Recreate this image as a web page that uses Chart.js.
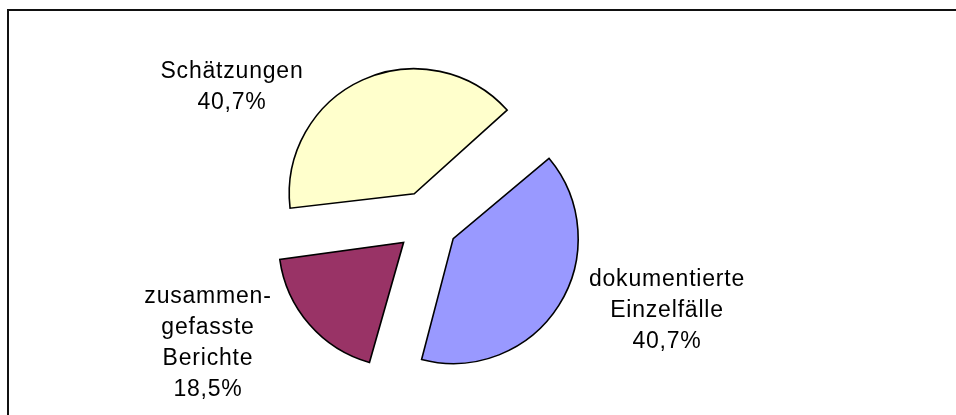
<!DOCTYPE html>
<html>
<head>
<meta charset="utf-8">
<script src="https://cdn.jsdelivr.net/npm/chart.js@4/dist/chart.umd.min.js"></script>
<style>
  html, body { margin: 0; padding: 0; background: #fff; }
  #wrap { position: relative; width: 956px; height: 415px; overflow: hidden; }
  #frame { position: absolute; left: 7px; top: 9px; width: 1000px; height: 500px;
           border-left: 2px solid #111; border-top: 2px solid #111; }
  canvas { position: absolute; left: 0; top: 0; }
</style>
</head>
<body>
<div id="wrap">
  <div id="frame"></div>
  <canvas id="pie" width="956" height="415"></canvas>
</div>
<script>
// Anteile in Prozent
const categories = [['dokumentierte', 'Einzelfälle'], ['zusammen-', 'gefasste', 'Berichte'], ['Schätzungen']];
const values = [40.7, 18.5, 40.7];
const colors = ['#9999FF', '#993366', '#FFFFCC'];

// where each label block starts (first baseline), relative to pie centre
const labelOffsets = [[240, 64], [-219, 81], [-195, -144]];
const lineHeight = 31;
const pieRadius = 125;
const gap = 31; // how far each slice is pulled out

// Chart.js v4 moves an arc by offset/4 and also grows its radius by offset/4 * fix;
// take that growth back off so all slices keep the same radius
const evenRadius = {
    id: 'evenRadius',
    beforeDatasetsDraw(chart) {
        chart.getDatasetMeta(0).data.forEach(arc => {
            const fix = 1 - Math.sin(Math.min(Math.PI, arc.circumference));
            arc.outerRadius = pieRadius - gap * fix;
        });
    }
};

const labelPlugin = {
    id: 'pieLabels',
    afterDatasetsDraw(chart) {
        const ctx = chart.ctx;
        const arcs = chart.getDatasetMeta(0).data;
        ctx.save();
        ctx.font = '23px "Liberation Sans", Arial, sans-serif';
        ctx.letterSpacing = '0.8px';
        ctx.fillStyle = '#000';
        ctx.textAlign = 'center';
        ctx.textBaseline = 'alphabetic';
        arcs.forEach((arc, i) => {
            const lines = categories[i].concat([values[i].toFixed(1).replace('.', ',') + '%']);
            const x = arc.x + labelOffsets[i][0];
            let y = arc.y + labelOffsets[i][1];
            lines.forEach(line => {
                ctx.fillText(line, x, y);
                y += lineHeight;
            });
        });
        ctx.restore();
    }
};

new Chart(document.getElementById('pie'), {
    type: 'pie',
    data: {
        labels: categories,
        datasets: [{
            data: values,
            backgroundColor: colors,
            borderColor: '#000',
            borderWidth: 1.6,
            borderJoinStyle: 'miter',
            offset: gap * 4
        }]
    },
    options: {
        responsive: false,
        animation: false,
        rotation: 49,
        radius: pieRadius,
        layout: { padding: { left: 0, right: 102, top: 29, bottom: 0 } },
        plugins: {
            legend: { display: false },
            tooltip: { enabled: false }
        }
    },
    plugins: [evenRadius, labelPlugin]
});
</script>
</body>
</html>
